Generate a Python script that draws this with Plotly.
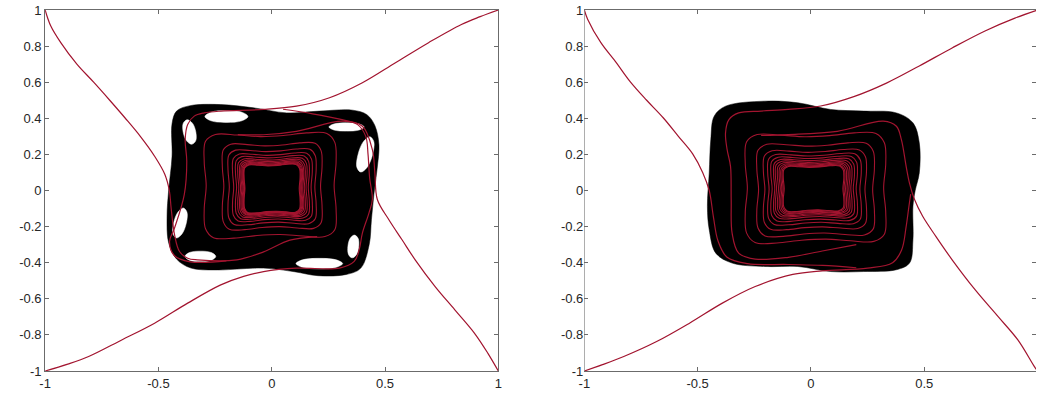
import plotly.graph_objects as go
from plotly.subplots import make_subplots

# ---------------- axis ticks ----------------
x_ticks = [-1, -0.5, 0, 0.5, 1]
x_tick_text = ["-1", "-0.5", "0", "0.5", "1"]
y_ticks = [-1, -0.8, -0.6, -0.4, -0.2, 0, 0.2, 0.4, 0.6, 0.8, 1]
y_tick_text = ["-1", "-0.8", "-0.6", "-0.4", "-0.2", "0", "0.2", "0.4", "0.6", "0.8", "1"]

loop_tx = [0.97, 1.00, 0.98, 0.86, 0.55, 0.20, -0.15, -0.50, -0.83, -0.98, -1.00, -0.97,
           -1.00, -0.98, -0.86, -0.55, -0.20, 0.15, 0.50, 0.83, 0.98, 1.00, 0.97]
loop_ty = [0.00, 0.45, 0.82, 0.99, 1.00, 0.95, 0.93, 0.96, 0.97, 0.84, 0.45, 0.00,
           -0.45, -0.82, -0.99, -1.00, -0.95, -0.93, -0.96, -0.97, -0.84, -0.45, 0.00]
# normalised outline of a small hole
hole_tx = [1, 0.72, 0, -0.72, -1, -0.72, 0, 0.72, 1]
hole_ty = [0, 0.72, 1, 0.72, 0, -0.72, -1, -0.72, 0]

# ---------------- left panel ----------------
left_blob_x = [0.451, 0.465, 0.473, 0.455, 0.42, 0.357, 0.211, 0.066, -0.08, -0.225, -0.36, -0.42, -0.44,
               -0.44, -0.455, -0.462, -0.455, -0.42, -0.356, -0.24, -0.036, 0.1, 0.204, 0.33, 0.393, 0.43,
               0.44, 0.451]
left_blob_y = [-0.02, 0.12, 0.255, 0.36, 0.42, 0.445, 0.44, 0.43, 0.458, 0.476, 0.47, 0.44, 0.37,
               0.19, 0.0, -0.143, -0.29, -0.38, -0.43, -0.44, -0.43, -0.45, -0.472, -0.465, -0.43, -0.30,
               -0.16, -0.02]

left_hole_cx = [-0.363, -0.20, 0.33, 0.413, 0.36, 0.21, -0.315, -0.405]
left_hole_cy = [0.324, 0.41, 0.352, 0.20, -0.31, -0.405, -0.365, -0.18]
left_hole_rx = [0.028, 0.095, 0.078, 0.032, 0.024, 0.103, 0.068, 0.028]
left_hole_ry = [0.068, 0.033, 0.023, 0.098, 0.063, 0.029, 0.029, 0.083]
left_hole_lean = [-0.01, 0.0, 0.0, 0.02, 0.005, 0.0, 0.0, 0.015]

left_loop_l = [-0.298, -0.218, -0.193, -0.173, -0.160, -0.150, -0.142, -0.136, -0.131, -0.127, -0.124, -0.122]
left_loop_r = [0.284, 0.222, 0.196, 0.179, 0.166, 0.156, 0.148, 0.141, 0.136, 0.132, 0.128, 0.125]
left_loop_b = [-0.264, -0.217, -0.190, -0.171, -0.158, -0.148, -0.141, -0.135, -0.131, -0.128, -0.126, -0.124]
left_loop_t = [0.319, 0.264, 0.230, 0.208, 0.193, 0.180, 0.171, 0.163, 0.157, 0.152, 0.148, 0.146]

left_arm_a_x = [1, 0.92, 0.837, 0.692, 0.546, 0.40, 0.255, 0.109, -0.036, -0.225, -0.298, -0.342, -0.371,
                -0.382, -0.375, -0.386, -0.429, -0.451, -0.43, -0.36, -0.2]
left_arm_a_y = [1, 0.963, 0.92, 0.819, 0.708, 0.597, 0.514, 0.467, 0.449, 0.44, 0.43, 0.412, 0.366,
                0.282, 0.162, -0.023, -0.208, -0.282, -0.36, -0.395, -0.39]
left_arm_b_x = [-1, -0.975, -0.931, -0.86, -0.786, -0.715, -0.648, -0.58, -0.517, -0.472, -0.452, -0.444,
                -0.429, -0.407, -0.371, -0.328, -0.154, -0.036, 0.08, 0.2]
left_arm_b_y = [1, 0.911, 0.819, 0.70, 0.6, 0.50, 0.403, 0.30, 0.19, 0.09, 0.0, -0.097,
                -0.245, -0.338, -0.375, -0.384, -0.384, -0.34, -0.275, -0.255]
left_arm_c_x = [-1, -0.9, -0.808, -0.662, -0.517, -0.371, -0.225, -0.124, -0.036, 0.109, 0.299, 0.364,
                0.386, 0.40, 0.429, 0.444, 0.432, 0.425, 0.415, 0.379, 0.3, 0.18, 0.05]
left_arm_c_y = [-1, -0.962, -0.92, -0.828, -0.735, -0.624, -0.523, -0.476, -0.449, -0.43, -0.43, -0.393,
                -0.328, -0.236, -0.125, -0.05, 0.07, 0.2, 0.3, 0.365, 0.395, 0.425, 0.45]
left_arm_d_x = [1, 0.954, 0.895, 0.808, 0.721, 0.633, 0.575, 0.517, 0.466, 0.455, 0.444, 0.4, 0.313,
                0.109, -0.036, -0.15]
left_arm_d_y = [-1, -0.902, -0.791, -0.661, -0.532, -0.384, -0.273, -0.162, -0.05, 0.1, 0.226, 0.356, 0.384,
                0.328, 0.309, 0.31]

# ---------------- right panel ----------------
right_blob_x = [0.46, 0.478, 0.478, 0.45, 0.377, 0.232, 0.087, -0.058, -0.203, -0.377, -0.427, -0.442,
                -0.449, -0.457, -0.449, -0.42, -0.348, -0.203, -0.058, 0.087, 0.232, 0.377, 0.435, 0.45,
                0.45, 0.46]
right_blob_y = [0.0, 0.097, 0.264, 0.375, 0.43, 0.44, 0.449, 0.486, 0.495, 0.467, 0.412, 0.282,
                0.097, -0.088, -0.217, -0.347, -0.402, -0.421, -0.421, -0.449, -0.449, -0.439, -0.402, -0.273,
                -0.088, 0.0]

right_loop_l = [-0.290, -0.239, -0.210, -0.191, -0.177, -0.165, -0.157, -0.148, -0.140, -0.133, -0.127, -0.122]
right_loop_r = [0.330, 0.280, 0.245, 0.222, 0.205, 0.192, 0.181, 0.172, 0.164, 0.157, 0.150, 0.145]
right_loop_b = [-0.291, -0.254, -0.217, -0.190, -0.171, -0.156, -0.145, -0.138, -0.130, -0.125, -0.119, -0.116]
right_loop_t = [0.319, 0.264, 0.227, 0.205, 0.190, 0.177, 0.167, 0.158, 0.151, 0.145, 0.140, 0.137]

right_arm_a_x = [1.0, 0.9, 0.768, 0.623, 0.478, 0.333, 0.189, 0.043, -0.101, -0.22, -0.319, -0.362, -0.377,
                 -0.37, -0.355, -0.352, -0.348, -0.319, -0.246, -0.1, 0.05, 0.2]
right_arm_a_y = [1.0, 0.955, 0.884, 0.79, 0.69, 0.595, 0.52, 0.468, 0.449, 0.44, 0.43, 0.393, 0.319,
                 0.227, 0.134, -0.05, -0.236, -0.347, -0.38, -0.37, -0.335, -0.30]
right_arm_b_x = [-1, -0.985, -0.927, -0.86, -0.797, -0.725, -0.652, -0.585, -0.522, -0.478, -0.449, -0.43,
                 -0.41, -0.37, -0.28, -0.1, 0.05, 0.2]
right_arm_b_y = [1, 0.948, 0.819, 0.71, 0.602, 0.5, 0.403, 0.3, 0.203, 0.1, 0.0, -0.15,
                 -0.28, -0.37, -0.405, -0.41, -0.415, -0.428]
right_arm_c_x = [-1, -0.92, -0.826, -0.681, -0.536, -0.391, -0.246, -0.08, 0.05, 0.25, 0.36, 0.40, 0.42,
                 0.432, 0.44]
right_arm_c_y = [-1, -0.965, -0.92, -0.837, -0.735, -0.624, -0.532, -0.465, -0.445, -0.43, -0.40, -0.33,
                 -0.2, -0.09, -0.02]
right_arm_d_x = [1.0, 0.986, 0.913, 0.826, 0.725, 0.623, 0.551, 0.493, 0.457, 0.435, 0.42, 0.399, 0.377,
                 0.319, 0.116, -0.101, -0.22]
right_arm_d_y = [-1.0, -0.976, -0.828, -0.699, -0.551, -0.384, -0.254, -0.143, -0.05, 0.04, 0.134, 0.282,
                 0.356, 0.384, 0.328, 0.31, 0.305]

RED = "#A2142F"
AXIS = "#6b6b6b"
TEXT = "#262626"

fig = make_subplots(rows=1, cols=2)


def add_panel(col, blob_x, blob_y, holes, loops, arms):
    # black region
    fig.add_trace(go.Scatter(x=blob_x, y=blob_y, mode="lines", fill="toself", fillcolor="black",
                             line=dict(color="black", width=0.5, shape="spline"),
                             hoverinfo="skip", showlegend=False), row=1, col=col)
    # white holes
    for cx, cy, rx, ry, lean in zip(*holes):
        hx = [cx + tx * rx + ty * lean for tx, ty in zip(hole_tx, hole_ty)]
        hy = [cy + ty * ry for ty in hole_ty]
        fig.add_trace(go.Scatter(x=hx, y=hy, mode="lines", fill="toself", fillcolor="white",
                                 line=dict(color="white", width=0.5, shape="spline"),
                                 hoverinfo="skip", showlegend=False), row=1, col=col)
    # nested level curves
    for l, r, b, t in zip(*loops):
        cx, hw = (l + r) / 2, (r - l) / 2
        cy, hh = (b + t) / 2, (t - b) / 2
        fig.add_trace(go.Scatter(x=[cx + v * hw for v in loop_tx], y=[cy + v * hh for v in loop_ty],
                                 mode="lines", line=dict(color=RED, width=1.1, shape="spline"),
                                 hoverinfo="skip", showlegend=False), row=1, col=col)
    # the four arms coming in from the corners
    for ax_, ay_ in arms:
        fig.add_trace(go.Scatter(x=ax_, y=ay_, mode="lines",
                                 line=dict(color=RED, width=1.2, shape="spline", smoothing=1.0),
                                 hoverinfo="skip", showlegend=False), row=1, col=col)


add_panel(1, left_blob_x, left_blob_y,
          (left_hole_cx, left_hole_cy, left_hole_rx, left_hole_ry, left_hole_lean),
          (left_loop_l, left_loop_r, left_loop_b, left_loop_t),
          [(left_arm_a_x, left_arm_a_y), (left_arm_b_x, left_arm_b_y),
           (left_arm_c_x, left_arm_c_y), (left_arm_d_x, left_arm_d_y)])
add_panel(2, right_blob_x, right_blob_y,
          ([], [], [], [], []),
          (right_loop_l, right_loop_r, right_loop_b, right_loop_t),
          [(right_arm_a_x, right_arm_a_y), (right_arm_b_x, right_arm_b_y),
           (right_arm_c_x, right_arm_c_y), (right_arm_d_x, right_arm_d_y)])

axis_common = dict(showgrid=False, zeroline=False, ticks="inside", ticklen=4, tickwidth=1,
                   tickcolor=AXIS, linecolor=AXIS, linewidth=1,
                   tickfont=dict(family="Liberation Sans, Arial, sans-serif", size=13, color=TEXT))

fig.update_xaxes(axis_common, tickvals=x_ticks, ticktext=x_tick_text, showline=True, mirror="ticks")
fig.update_yaxes(axis_common, tickvals=y_ticks, ticktext=y_tick_text, range=[-1, 1])
fig.update_xaxes(domain=[0.038, 0.478], range=[-1, 1], row=1, col=1)
fig.update_xaxes(domain=[0.5615, 1.0], range=[-1, 0.993], row=1, col=2)
fig.update_yaxes(showline=True, mirror="ticks", row=1, col=1)
fig.update_yaxes(showline=False, mirror="ticks", row=1, col=2)
# left edge of the right panel (its right edge runs off the page)
fig.add_shape(type="line", xref="x2", yref="y2", x0=-1, x1=-1, y0=-1, y1=1,
              line=dict(color=AXIS, width=1))

fig.update_layout(width=1040, height=396, margin=dict(l=0, r=0, t=10, b=25),
                  plot_bgcolor="white", paper_bgcolor="white", showlegend=False)

fig.write_html("out.html", config={"displayModeBar": False},
               post_script="document.body.style.margin='0px';")
